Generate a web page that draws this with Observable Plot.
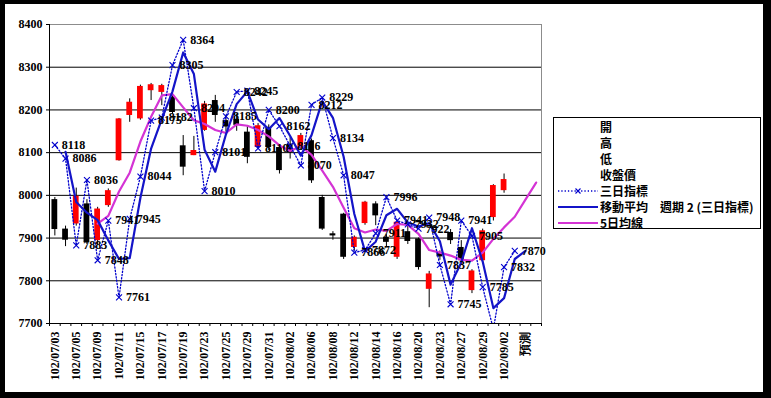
<!DOCTYPE html>
<html><head><meta charset="utf-8">
<script src="https://cdn.jsdelivr.net/npm/d3@7"></script>
<script src="https://cdn.jsdelivr.net/npm/@observablehq/plot@0.6"></script>
<style>
body{margin:0;background:#000;}
#wrap{position:relative;width:771px;height:398px;background:#000;overflow:hidden;}
#paper{position:absolute;left:5px;top:4px;width:758px;height:388px;background:#fff;}
#chart{position:absolute;left:0;top:0;}
#legend{position:absolute;left:553px;top:117px;width:206px;height:110px;border:1px solid #000;background:#fff;
 font-family:"Noto Sans CJK TC",sans-serif;font-size:12px;font-weight:bold;color:#000;}
#legend .row{position:absolute;left:0;height:16px;line-height:16px;white-space:pre;}
#legend .row span{position:absolute;left:46px;top:0;}
#legend .row svg{position:absolute;left:3px;top:2px;}
</style></head>
<body>
<div id="wrap"><div id="paper"></div><div id="chart"></div><div id="legend"></div></div>
<script>
const dates = ["102/07/03","102/07/04","102/07/05","102/07/08","102/07/09","102/07/10","102/07/11","102/07/12","102/07/15","102/07/16","102/07/17","102/07/18","102/07/19","102/07/22","102/07/23","102/07/24","102/07/25","102/07/26","102/07/29","102/07/30","102/07/31","102/08/01","102/08/02","102/08/05","102/08/06","102/08/07","102/08/08","102/08/09","102/08/12","102/08/13","102/08/14","102/08/15","102/08/16","102/08/19","102/08/20","102/08/22","102/08/23","102/08/26","102/08/27","102/08/28","102/08/29","102/08/30","102/09/02","102/09/03","預測",""];
const open  = [7990,7921,7933,7980,7894,7976,8081,8187,8179,8245,8241,8230,8116,8093,8152,8222,8175,8178,8148,8112,8159,8112,8120,8112,8128,7995,7910,7956,7878,7934,7980,7902,7855,7915,7898,7780,7865,7913,7878,7777,7847,7948,8011];
const high  = [7995,7928,8017,7990,7972,8015,8180,8226,8258,8262,8260,8241,8140,8138,8220,8234,8188,8190,8163,8168,8165,8118,8135,8145,8132,8000,7915,7958,7905,7986,7985,7908,7940,7930,7900,7822,7870,7920,7894,7826,7921,8025,8050];
const low   = [7905,7880,7928,7885,7885,7972,8080,8171,8176,8222,8210,8190,8046,8093,8150,8171,8148,8150,8074,8108,8105,8050,8085,8105,8028,7918,7895,7850,7870,7930,7929,7880,7850,7885,7825,7737,7848,7885,7843,7770,7840,7940,8005];
const close = [7920,7895,7998,7890,7968,8011,8179,8218,8255,8259,8257,8194,8066,8105,8214,8187,8160,8164,8089,8163,8112,8058,8100,8140,8034,7921,7905,7855,7902,7984,7952,7890,7937,7892,7831,7816,7856,7894,7847,7823,7917,8023,8037];
const tri   = [8118,8086,7883,8036,7848,7941,7761,7945,8044,8175,8182,8305,8364,8204,8010,8101,8185,8242,8245,8110,8200,8162,8116,8070,8212,8229,8134,8047,7866,7872,7911,7996,7941,7932,7922,7948,7837,7745,7941,7905,7785,7687,7832,7870];
const ma2   = [null,8102,7984.5,7959.5,7942,7894.5,7851,7853,7994.5,8109.5,8178.5,8243.5,8334.5,8284,8107,8055.5,8143,8213.5,8243.5,8177.5,8155,8181,8139,8093,8141,8220.5,8181.5,8090.5,7956.5,7869,7891.5,7953.5,7968.5,7936.5,7927,7935,7892.5,7791,7843,7923,7845,7736,7759.5,7851,7870];
const ma5   = [null,null,null,null,7934,7952,8009,8053,8126,8184,8234,8237,8206,8176,8167,8153,8146,8166,8163,8153,8138,8117,8104,8115,8095,8058,8020,7971,7923,7913,7920,7917,7933,7931,7910,7872,7866,7859,7849,7847,7866,7898,7925,7950,7990,8030];
const yTicks = [7700,7800,7900,8000,8100,8200,8300,8400];
const legendNames = ["開","高","低","收盤價","三日指標","移動平均　週期 2 (三日指標)","5日均線"];

const RED = "#ff0000", BLUE = "#0000cc", BLUE2 = "#1414c8", MAG = "#d433d4";
const candles = open.map((o, i) => ({i, open: o, high: high[i], low: low[i], close: close[i]}));
const triData = tri.map((v, i) => ({i, v}));
const ma2Data = ma2.map((v, i) => ({i, v})).filter(d => d.v != null);
const ma5Data = ma5.map((v, i) => ({i, v})).filter(d => d.v != null);
const idx = dates.map((d, i) => i);
const evenIdx = idx.filter(i => i % 2 === 0);
const bounds = [-0.5, ...idx.map(i => i + 0.5)];
const yMin = yTicks[0], yMax = yTicks[yTicks.length - 1];

const chart = Plot.plot({
  width: 771, height: 398,
  marginLeft: 49, marginRight: 230, marginTop: 24, marginBottom: 75,
  style: {background: "transparent", fontFamily: "'Liberation Serif', serif", fontSize: "12px", fontWeight: "bold", color: "#000", overflow: "visible"},
  x: {type: "linear", domain: [-0.5, dates.length - 0.5]},
  y: {domain: [yMin, yMax]},
  marks: [
    Plot.frame({stroke: "#8c8c8c"}),
    Plot.ruleY(yTicks.slice(1, -1), {stroke: "#000", strokeWidth: 1}),
    Plot.ruleY([yMin], {stroke: "#000"}),
    Plot.ruleX([-0.5], {stroke: "#000"}),
    Plot.axisY({ticks: yTicks, tickSize: 3, tickPadding: 4, tickFormat: d => String(d), fontSize: 12, fontWeight: "bold", label: null}),
    Plot.axisX({ticks: bounds, tickSize: 3, tickFormat: () => "", label: null}),
    Plot.axisX({ticks: evenIdx, tickSize: 0, tickPadding: 8, tickRotate: -90, tickFormat: i => dates[i], fontSize: 12, fontWeight: "bold", label: null}),
    Plot.ruleX(candles, {x: "i", y1: "low", y2: "high", stroke: "#000", strokeWidth: 1}),
    Plot.rect(candles, {x1: d => d.i - 0.27, x2: d => d.i + 0.27, y1: "open", y2: "close", fill: d => d.close >= d.open ? RED : "#000"}),
    Plot.line(ma5Data, {x: "i", y: "v", stroke: MAG, strokeWidth: 2.2}),
    Plot.line(triData, {x: "i", y: "v", stroke: BLUE, strokeWidth: 1.3, strokeDasharray: "1.3,2", clip: true}),
    Plot.line(ma2Data, {x: "i", y: "v", stroke: BLUE2, strokeWidth: 2.2}),
    Plot.dot(triData, {x: "i", y: "v", symbol: "times", r: 2.8, stroke: BLUE, strokeWidth: 1.1, clip: true}),
    Plot.text(triData, {filter: d => d.v >= yMin && d.v <= yMax, x: "i", y: "v", text: d => String(d.v), dx: 7, textAnchor: "start", fontSize: 12, fontWeight: "bold", fill: "#000"})
  ]
});
document.getElementById("chart").appendChild(chart);

const legend = document.getElementById("legend");
legendNames.forEach((name, k) => {
  const row = document.createElement("div");
  row.className = "row";
  row.style.top = (1.4 + 15.9 * k) + "px";
  row.style.width = "206px";
  let sw = "";
  if (k === 4) sw = `<svg width="42" height="12"><line x1="1" y1="6" x2="41" y2="6" stroke="${BLUE}" stroke-width="1.3" stroke-dasharray="1.3,2"/><path d="M18.5,3.5L23.5,8.5M23.5,3.5L18.5,8.5" stroke="${BLUE}" stroke-width="1.1"/></svg>`;
  if (k === 5) sw = `<svg width="42" height="12"><line x1="1" y1="6" x2="41" y2="6" stroke="${BLUE2}" stroke-width="2.2"/></svg>`;
  if (k === 6) sw = `<svg width="42" height="12"><line x1="1" y1="6" x2="41" y2="6" stroke="${MAG}" stroke-width="2.2"/></svg>`;
  row.innerHTML = sw + `<span></span>`;
  row.querySelector("span").textContent = name;
  legend.appendChild(row);
});
</script>
</body></html>
